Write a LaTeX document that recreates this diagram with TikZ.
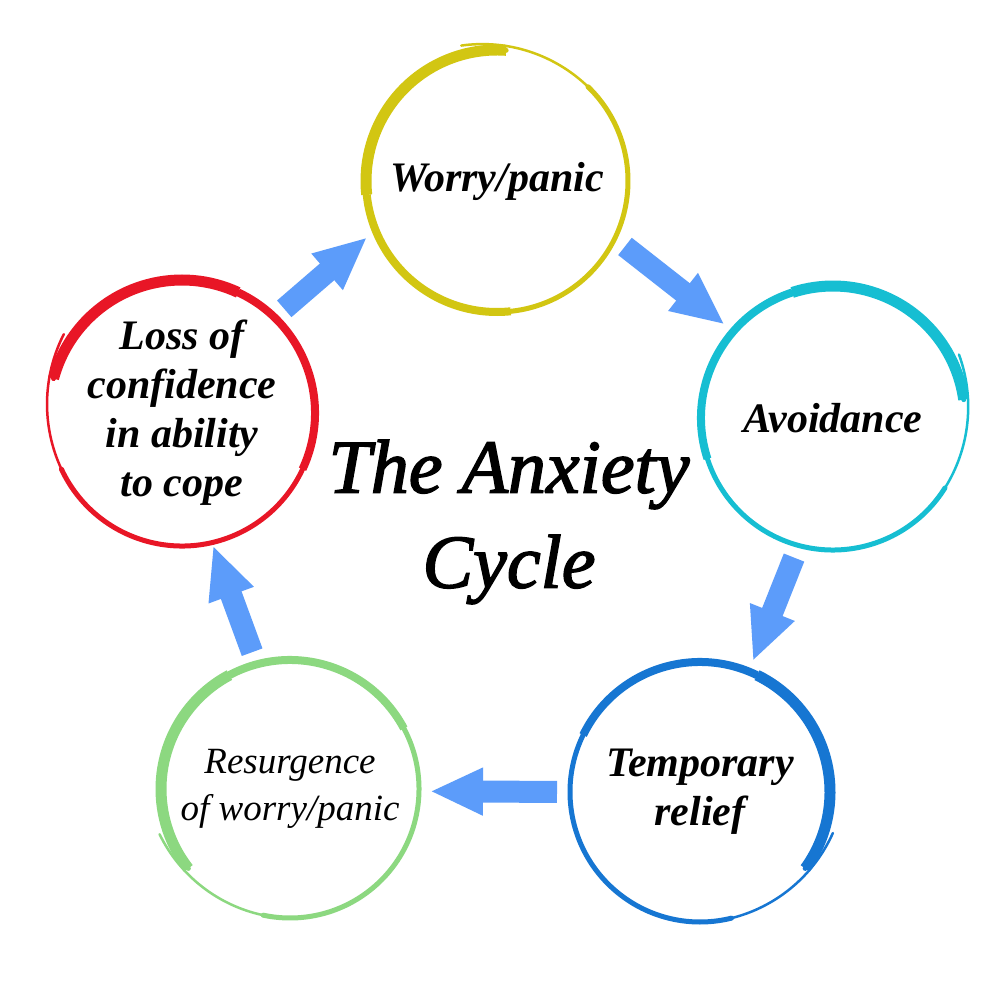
\documentclass[tikz,border=0pt]{standalone}
\usepackage{fontspec}
\setmainfont{Liberation Serif}
\newfontfamily\titlefont{Liberation Serif Italic}[FakeBold=2]
\usepackage{tikz}
\usetikzlibrary{arrows.meta}
\definecolor{worryC}{RGB}{210,198,18}
\definecolor{lossC}{RGB}{232,22,38}
\definecolor{avoidC}{RGB}{22,190,210}
\definecolor{reliefC}{RGB}{22,118,210}
\definecolor{resurgC}{RGB}{140,216,128}
\definecolor{flowC}{RGB}{92,156,250}

\begin{document}
\begin{tikzpicture}[x=1pt, y=1pt,
  stage/.style={circle, inner sep=0pt, outer sep=0pt, align=center,
    font=\fontsize{42}{49}\selectfont\bfseries\itshape},
  brush/.style={line width=5pt, line cap=round},
  brush thick/.style={line width=11pt},
  brush mid/.style={line width=8pt},
  brush tail/.style={line width=2.5pt, line cap=round},
  flow/.style={draw=flowC, line width=22pt, -{Triangle[length=53pt, width=44pt]},
    shorten <=13pt, shorten >=11pt},
  title/.style={align=center, font=\fontsize{76}{95}\selectfont\titlefont}]

  \path[fill=white] (0,0) rectangle (1000,980);

  %stages:
  \node[stage, minimum size=262pt] (worry) at (497,799) {Worry/panic};
  \node[stage, minimum size=264pt] (avoid) at (833,562) {Avoidance};
  \node[stage, minimum size=260pt] (relief) at (700,188) {Temporary\\relief};
  \node[stage, minimum size=258pt, font=\fontsize{37}{47}\selectfont\itshape] (resurg) at (290,191) {Resurgence\\of worry/panic};
  \node[stage, minimum size=266pt] (loss) at (182,567) {Loss of\\confidence\\in ability\\to cope};

  %title
  \node[title] (title) at (509,458) {The Anxiety\\Cycle};

  %brush circles
  %worry
  \draw[brush, worryC] (worry.86) arc[start angle=86, delta angle=320, radius=131pt];
  \draw[brush thick, worryC] (worry.86) arc[start angle=86, delta angle=100, radius=131pt];
  \draw[brush mid, worryC] (worry.186) arc[start angle=186, delta angle=90, radius=131pt];
  \draw[brush tail, worryC] (worry.46) arc[start angle=46, delta angle=52, radius=152pt];
  %avoidance
  \draw[brush, avoidC] (avoid.8) arc[start angle=8, delta angle=320, radius=132pt];
  \draw[brush thick, avoidC] (avoid.8) arc[start angle=8, delta angle=100, radius=132pt];
  \draw[brush mid, avoidC] (avoid.108) arc[start angle=108, delta angle=90, radius=132pt];
  \draw[brush tail, avoidC] (avoid.328) arc[start angle=328, delta angle=52, radius=153pt];
  %relief
  \draw[brush, reliefC] (relief.324) arc[start angle=324, delta angle=320, radius=130pt];
  \draw[brush thick, reliefC] (relief.324) arc[start angle=324, delta angle=100, radius=130pt];
  \draw[brush mid, reliefC] (relief.64) arc[start angle=64, delta angle=90, radius=130pt];
  \draw[brush tail, reliefC] (relief.284) arc[start angle=284, delta angle=52, radius=151pt];
  %resurgence
  \draw[brush, resurgC] (resurg.218) arc[start angle=218, delta angle=-320, radius=129pt];
  \draw[brush thick, resurgC] (resurg.218) arc[start angle=218, delta angle=-100, radius=129pt];
  \draw[brush mid, resurgC] (resurg.118) arc[start angle=118, delta angle=-90, radius=129pt];
  \draw[brush tail, resurgC] (resurg.258) arc[start angle=258, delta angle=-52, radius=150pt];
  %loss
  \draw[brush, lossC] (loss.165) arc[start angle=165, delta angle=-320, radius=133pt];
  \draw[brush thick, lossC] (loss.165) arc[start angle=165, delta angle=-100, radius=133pt];
  \draw[brush mid, lossC] (loss.65) arc[start angle=65, delta angle=-90, radius=133pt];
  \draw[brush tail, lossC] (loss.205) arc[start angle=205, delta angle=-52, radius=154pt];

  %arrows
  \draw[flow] (loss.46) -- (worry.202);
  \draw[flow] (worry.334) -- (avoid.139);
  \draw[flow] (avoid.255) -- (relief.68);
  \draw[flow] (relief.180) -- (resurg.359);
  \draw[flow, shorten >=3pt] (resurg.105) -- (loss.283);
\end{tikzpicture}
\end{document}
